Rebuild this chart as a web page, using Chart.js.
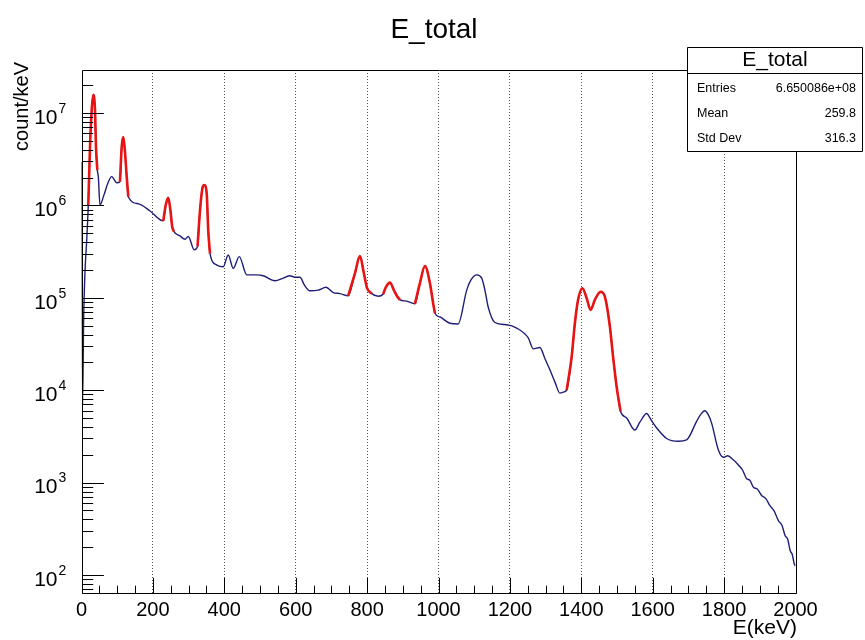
<!DOCTYPE html>
<html>
<head>
<meta charset="utf-8">
<title>E_total</title>
<script src="https://cdn.jsdelivr.net/npm/chart.js@4.4.1/dist/chart.umd.min.js"></script>
<style>
  html, body { margin: 0; padding: 0; background: #ffffff; }
  #wrap { width: 865px; height: 640px; position: relative; }
</style>
</head>
<body>
<div id="wrap"><canvas id="spectrum" width="865" height="640"></canvas></div>
<script>
// Deposited-energy spectrum, counts per keV
const energy = [
  0, 1, 3, 6, 10, 14.6, 19, 23.8, 28.6, 33.1, 37.8, 40.6, 44.3, 47.1, 51.8,
  63, 74, 84.6, 98.6, 105.9, 107.8, 112.6, 117.1, 121.8, 126.6, 131.1,
  160, 192, 229, 236, 243, 249, 254, 259, 275, 290, 299, 316,
  325, 332, 339.5, 344, 350.7, 355, 360, 379, 397, 411, 425, 442,
  463, 491, 509, 542, 565, 584, 598, 612, 624, 640, 663, 685, 705, 724,
  747, 766, 780, 791, 800, 813, 831, 845, 853, 864, 875, 884, 892,
  911, 934, 948, 962, 976, 985, 990, 1004, 1032, 1055, 1079, 1091,
  1107, 1121, 1130, 1139, 1158, 1191, 1219, 1251, 1266, 1284, 1298,
  1312, 1327, 1340, 1352, 1359, 1373, 1382, 1391, 1403, 1415, 1426,
  1438, 1454, 1466, 1480, 1489, 1499, 1510, 1527, 1550, 1564, 1583,
  1595, 1611, 1639, 1672, 1695, 1723, 1735, 1746, 1756, 1765, 1784,
  1798, 1810, 1821, 1840, 1852, 1863, 1872, 1882, 1893, 1905, 1917,
  1928, 1940, 1952, 1962, 1971, 1978, 1985, 1991, 1996, 2000
];
const counts = [
  2.95e6, 2.6e5, 6.9e3, 5.8e4, 2.0e5, 4.2e5, 1.01e6, 4.3e6, 1.08e7, 1.57e7, 1.08e7, 4.3e6, 2.42e6, 2.05e6, 1.01e6,
  1.30e6, 1.75e6, 2.05e6, 1.76e6, 1.78e6, 1.81e6, 4.3e6, 5.5e6, 3.8e6, 2.05e6, 1.24e6,
  1.04e6, 8.7e5, 6.8e5, 1.01e6, 1.21e6, 8.9e5, 5.9e5, 5.2e5, 4.7e5, 4.3e5, 4.6e5, 3.3e5,
  3.6e5, 8.9e5, 1.59e6, 1.66e6, 1.35e6, 5.4e5, 3.0e5, 2.26e5, 2.17e5, 2.9e5, 2.08e5, 2.79e5,
  1.77e5, 1.77e5, 1.73e5, 1.53e5, 1.63e5, 1.73e5, 1.67e5, 1.67e5, 1.38e5, 1.19e5, 1.21e5, 1.30e5, 1.14e5, 1.11e5,
  1.05e5, 1.84e5, 2.83e5, 1.84e5, 1.27e5, 1.11e5, 1.04e5, 1.10e5, 1.31e5, 1.46e5, 1.21e5, 1.04e5, 9.5e4,
  9.2e4, 8.6e4, 1.44e5, 2.21e5, 1.44e5, 8.7e4, 6.8e4, 6.2e4, 5.3e4, 5.2e4, 1.21e5, 1.56e5,
  1.77e5, 1.63e5, 1.21e5, 8.0e4, 5.4e4, 5.1e4, 4.7e4, 3.7e4, 2.8e4, 2.9e4, 2.2e4,
  1.66e4, 1.2e4, 9.3e3, 9.6e3, 1.0e4, 2.3e4, 5.3e4, 9.5e4, 1.27e5, 9.9e4, 7.4e4,
  9.5e4, 1.16e5, 1.03e5, 4.9e4, 2.3e4, 1.09e4, 5.9e3, 5.0e3, 3.7e3, 4.5e3, 5.6e3,
  4.8e3, 3.9e3, 3.0e3, 2.8e3, 2.9e3, 4.6e3, 5.5e3, 6.0e3, 5.4e3, 4.4e3, 2.25e3,
  1.88e3, 1.95e3, 1.83e3, 1.55e3, 1.36e3, 1.10e3, 1.06e3, 890, 850, 725, 670,
  565, 495, 388, 345, 266, 245, 184, 166, 134, 125
];
// Energy windows (keV) of the fitted photopeaks, drawn in red
const peakLow  = [19, 107.8, 229, 325, 747, 845, 934, 1359];
const peakHigh = [44.3, 131.1, 259, 360, 813, 892, 990, 1510];

// Axis ticks and labels
const xTickValues = [0, 200, 400, 600, 800, 1000, 1200, 1400, 1600, 1800, 2000];
const xMinorStep = 50;
const yDecades = [2, 3, 4, 5, 6, 7];
const xRange = [0, 2000];
const yRange = [63.8, 2.92e7];
const xTitle = 'E(keV)';
const yTitle = 'count/keV';
const plotTitle = 'E_total';

// Statistics box
const statsTitle = 'E_total';
const statsNames  = ['Entries', 'Mean', 'Std Dev'];
const statsValues = ['6.650086e+08', '259.8', '316.3'];

const FONT = '"Liberation Sans", Arial, Helvetica, sans-serif';

const spectrumPoints = energy.map((e, i) => ({ x: e, y: counts[i] }));
const inPeak = e => peakLow.some((lo, j) => e >= lo && e <= peakHigh[j]);
const peakPoints = energy.map((e, i) => ({ x: e, y: inPeak(e) ? counts[i] : null }));

// Frame, inward ticks, log labels, titles and statistics box
const rootStyle = {
  id: 'rootStyle',
  afterDatasetsDraw(chart) {
    const { ctx, chartArea: a, scales: { x, y } } = chart;
    const L = Math.round(a.left) + 0.5, R = Math.round(a.right) + 0.5;
    const T = Math.round(a.top) + 0.5, B = Math.round(a.bottom) + 0.5;
    ctx.save();
    ctx.strokeStyle = '#000';
    ctx.lineWidth = 1;
    ctx.beginPath();
    ctx.rect(L, T, R - L, B - T);
    // x ticks (inside frame)
    for (let e = xRange[0]; e <= xRange[1]; e += xMinorStep) {
      const px = Math.round(x.getPixelForValue(e)) + 0.5;
      const len = xTickValues.includes(e) ? 15.7 : 7.8;
      ctx.moveTo(px, B);
      ctx.lineTo(px, B - len);
    }
    // y ticks (inside frame)
    for (let k = 1; k <= 7; k++) {
      for (let m = 1; m <= 9; m++) {
        const v = m * Math.pow(10, k);
        if (v < yRange[0] || v > yRange[1]) continue;
        const py = Math.round(y.getPixelForValue(v)) + 0.5;
        const len = m === 1 ? 21.4 : 10.7;
        ctx.moveTo(L, py);
        ctx.lineTo(L + len, py);
      }
    }
    ctx.stroke();

    // y labels 10^k
    ctx.fillStyle = '#000';
    yDecades.forEach(k => {
      const py = y.getPixelForValue(Math.pow(10, k));
      ctx.font = '21px ' + FONT;
      ctx.textAlign = 'right';
      ctx.textBaseline = 'middle';
      ctx.fillText('10', 57.5, py + 5);
      ctx.font = '14px ' + FONT;
      ctx.textAlign = 'left';
      ctx.fillText(String(k), 58.5, py - 4);
    });

    // axis titles
    ctx.font = '21px ' + FONT;
    ctx.textAlign = 'right';
    ctx.textBaseline = 'middle';
    ctx.fillText(xTitle, 797, 628);
    ctx.font = '20px ' + FONT;
    ctx.save();
    ctx.translate(22, 62);
    ctx.rotate(-Math.PI / 2);
    ctx.textAlign = 'right';
    ctx.fillText(yTitle, 0, 0);
    ctx.restore();

    // main title
    ctx.font = '28px ' + FONT;
    ctx.textAlign = 'center';
    ctx.fillText(plotTitle, 434, 30);

    // statistics box
    const bx = 687.5, by = 47.5, bw = 175, bh = 104, sep = 73.5;
    ctx.fillStyle = '#fff';
    ctx.fillRect(bx, by, bw, bh);
    ctx.beginPath();
    ctx.rect(bx, by, bw, bh);
    ctx.moveTo(bx, sep);
    ctx.lineTo(bx + bw, sep);
    ctx.stroke();
    ctx.fillStyle = '#000';
    ctx.font = '21px ' + FONT;
    ctx.textAlign = 'center';
    ctx.fillText(statsTitle, bx + bw / 2, 60);
    ctx.font = '12.5px ' + FONT;
    statsNames.forEach((n, i) => {
      const ry = 89 + i * 25;
      ctx.textAlign = 'left';
      ctx.fillText(n, 697, ry);
      ctx.textAlign = 'right';
      ctx.fillText(statsValues[i], 856, ry);
    });
    ctx.restore();
  }
};

new Chart(document.getElementById('spectrum'), {
  type: 'line',
  data: {
    datasets: [
      {
        label: 'peaks',
        data: peakPoints,
        borderColor: '#e81414',
        borderWidth: 2.6,
        pointRadius: 0,
        spanGaps: false,
        cubicInterpolationMode: 'monotone',
        order: 0
      },
      {
        label: 'E_total',
        data: spectrumPoints,
        borderColor: '#1e1e78',
        borderWidth: 1.4,
        pointRadius: 0,
        cubicInterpolationMode: 'monotone',
        order: 1
      }
    ]
  },
  options: {
    responsive: false,
    animation: false,
    devicePixelRatio: 1,
    layout: { padding: { top: 70, right: 69.5, left: 0, bottom: 0 } },
    plugins: {
      legend: { display: false },
      tooltip: { enabled: false },
      title: { display: false }
    },
    scales: {
      x: {
        type: 'linear',
        min: xRange[0],
        max: xRange[1],
        afterBuildTicks(s) { s.ticks = xTickValues.map(v => ({ value: v })); },
        afterFit(s) { s.height = 47; },
        ticks: {
          font: { family: FONT, size: 20 },
          color: '#000',
          padding: 5,
          maxRotation: 0,
          autoSkip: false,
          callback: v => String(v)
        },
        grid: {
          drawTicks: false,
          lineWidth: 1,
          color: c => (c.tick && (c.tick.value === xRange[0] || c.tick.value === xRange[1])) ? 'rgba(0,0,0,0)' : '#555'
        },
        border: { display: false, dash: [1, 2] }
      },
      y: {
        type: 'logarithmic',
        min: yRange[0],
        max: yRange[1],
        afterFit(s) { s.width = 81.5; },
        ticks: { display: false },
        grid: { display: false },
        border: { display: false }
      }
    }
  },
  plugins: [rootStyle]
});
</script>
</body>
</html>
